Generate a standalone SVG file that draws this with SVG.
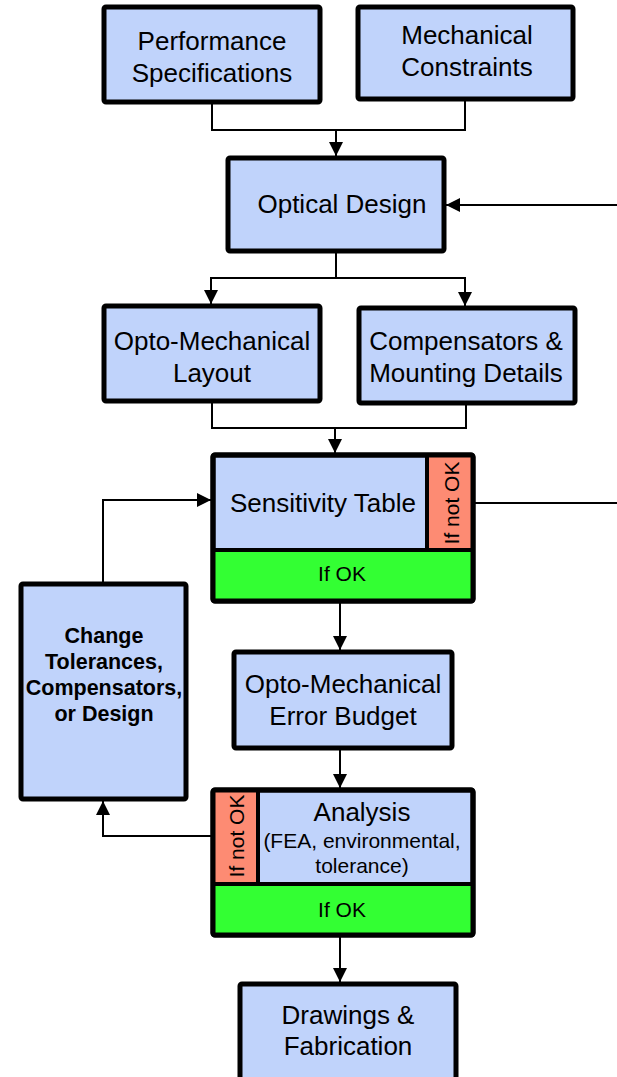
<svg xmlns="http://www.w3.org/2000/svg" width="617" height="1077" viewBox="0 0 617 1077">
  <defs>
    <marker id="arrow" viewBox="0 0 14 14" refX="14" refY="7" markerWidth="14" markerHeight="14" markerUnits="userSpaceOnUse" orient="auto">
      <path d="M0,0 L14,7 L0,14 Z" fill="#000"/>
    </marker>
    <style>
      .box { fill: #c0d3fb; stroke: #000; stroke-width: 5; }
      .nok { fill: #fd8b73; }
      .ok { fill: #33ff33; }
      .div { stroke: #000; stroke-width: 4; fill: none; }
      .frame { fill: none; stroke: #000; stroke-width: 5; }
      .t { font-family: "Liberation Sans", Arial, sans-serif; font-size: 26px; text-anchor: middle; fill: #000; }
      .s { font-family: "Liberation Sans", Arial, sans-serif; font-size: 21px; text-anchor: middle; fill: #000; }
      .b { font-family: "Liberation Sans", Arial, sans-serif; font-size: 21.5px; font-weight: bold; text-anchor: middle; fill: #000; }
      .c { fill: none; stroke: #000; stroke-width: 2; }
      .ca { fill: none; stroke: #000; stroke-width: 2; marker-end: url(#arrow); }
    </style>
  </defs>

  <g id="connectors">
    <path class="c" d="M212,104 V130 H465 V101"/>
    <path class="ca" d="M336,130 V156"/>
    <path class="ca" d="M617,205 H446"/>
    <path class="c" d="M336,253 V278"/>
    <path class="ca" d="M336,278 H211 V304"/>
    <path class="ca" d="M336,278 H465 V306"/>
    <path class="c" d="M212,403 V428 H466 V405"/>
    <path class="ca" d="M335,428 V453"/>
    <path class="c" d="M475,503 H617"/>
    <path class="ca" d="M103,582 V500 H211"/>
    <path class="ca" d="M340,603 V650"/>
    <path class="ca" d="M340,750 V788"/>
    <path class="ca" d="M211,836 H103 V801"/>
    <path class="ca" d="M340,937 V982"/>
  </g>

  <g id="performance-specifications">
    <rect class="box" x="104" y="7" width="216" height="95" rx="2"/>
    <text class="t" x="212" y="50">Performance</text>
    <text class="t" x="212" y="82">Specifications</text>
  </g>

  <g id="mechanical-constraints">
    <rect class="box" x="358" y="7" width="215" height="92" rx="2"/>
    <text class="t" x="467" y="44">Mechanical</text>
    <text class="t" x="467" y="76">Constraints</text>
  </g>

  <g id="optical-design">
    <rect class="box" x="228" y="158" width="216" height="93" rx="2"/>
    <text class="t" x="342" y="213">Optical Design</text>
  </g>

  <g id="opto-mechanical-layout">
    <rect class="box" x="104" y="306" width="216" height="95" rx="2"/>
    <text class="t" x="212" y="350">Opto-Mechanical</text>
    <text class="t" x="212" y="382">Layout</text>
  </g>

  <g id="compensators-mounting">
    <rect class="box" x="359" y="308" width="216" height="95" rx="2"/>
    <text class="t" x="466" y="350">Compensators &amp;</text>
    <text class="t" x="466" y="382">Mounting Details</text>
  </g>

  <g id="sensitivity-table">
    <rect class="box" x="213" y="455" width="260" height="146" rx="2"/>
    <rect class="nok" x="427" y="457" width="44" height="93"/>
    <rect class="ok" x="215" y="550" width="256" height="49"/>
    <path class="div" d="M213,550 H473 M427,455 V550"/>
    <rect class="frame" x="213" y="455" width="260" height="146" rx="2"/>
    <text class="t" x="323" y="512">Sensitivity Table</text>
    <text class="s" transform="translate(459,503) rotate(-90)" x="0" y="0">If not OK</text>
    <text class="s" x="342" y="581">If OK</text>
  </g>

  <g id="change-tolerances">
    <rect class="box" x="21" y="584" width="165" height="215" rx="2"/>
    <text class="b" x="104" y="643">Change</text>
    <text class="b" x="104" y="669">Tolerances,</text>
    <text class="b" x="104" y="695">Compensators,</text>
    <text class="b" x="104" y="721">or Design</text>
  </g>

  <g id="error-budget">
    <rect class="box" x="234" y="652" width="218" height="96" rx="2"/>
    <text class="t" x="343" y="693">Opto-Mechanical</text>
    <text class="t" x="343" y="725">Error Budget</text>
  </g>

  <g id="analysis">
    <rect class="box" x="213" y="790" width="260" height="145" rx="2"/>
    <rect class="nok" x="215" y="792" width="43" height="92"/>
    <rect class="ok" x="215" y="884" width="256" height="49"/>
    <path class="div" d="M213,884 H473 M258,790 V884"/>
    <rect class="frame" x="213" y="790" width="260" height="145" rx="2"/>
    <text class="t" x="362" y="821">Analysis</text>
    <text class="s" x="362" y="848">(FEA, environmental,</text>
    <text class="s" x="362" y="873">tolerance)</text>
    <text class="s" transform="translate(244,836) rotate(-90)" x="0" y="0">If not OK</text>
    <text class="s" x="342" y="917">If OK</text>
  </g>

  <g id="drawings-fabrication">
    <rect class="box" x="240" y="984" width="216" height="104" rx="2"/>
    <text class="t" x="348" y="1024">Drawings &amp;</text>
    <text class="t" x="348" y="1055">Fabrication</text>
  </g>
</svg>
